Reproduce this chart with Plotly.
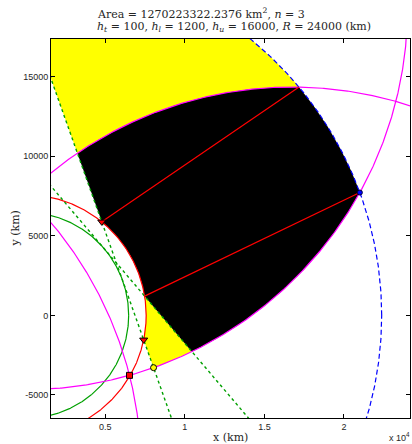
import numpy as np
import plotly.graph_objects as go

# ---- data ----
RE = 6371.0                      # Earth radius (km)
H_T, H_L, H_U = 100.0, 1200.0, 16000.0
R_RANGE = 24000.0
SAT_RADIUS = 19330.0             # orbit radius of the 3 satellites (km)
SAT_ANGLES_DEG = [90.0, -30.0, 210.0]
AREA_TEXT = "1270223322.2376"
N_SAT = 3

X_RANGE = [1590, 24150]
Y_RANGE = [-6445, 17350]
X_TICKS = [5000, 10000, 15000, 20000]
X_TICK_TEXT = ["0.5", "1", "1.5", "2"]
Y_TICKS = [-5000, 0, 5000, 10000, 15000]
Y_TICK_TEXT = ["-5000", "0", "5000", "10000", "15000"]

# ---- geometry helpers ----
def unit(v):
    return v / np.linalg.norm(v)

def line_circle(p0, d, c, r):
    f = p0 - c
    b = np.dot(f, d)
    cc = np.dot(f, f) - r * r
    s = np.sqrt(b * b - cc)
    return sorted([-b - s, -b + s])

def circ_circ(c1, r1, c2, r2):
    d = np.linalg.norm(c2 - c1)
    a = (r1 * r1 - r2 * r2 + d * d) / (2 * d)
    h = np.sqrt(max(r1 * r1 - a * a, 0.0))
    ex = (c2 - c1) / d
    ey = np.array([-ex[1], ex[0]])
    m = c1 + a * ex
    return m + h * ey, m - h * ey

def arc(c, r, pa, pb, n=120):
    a0 = np.arctan2(pa[1] - c[1], pa[0] - c[0])
    a1 = np.arctan2(pb[1] - c[1], pb[0] - c[0])
    da = (a1 - a0 + np.pi) % (2 * np.pi) - np.pi
    t = np.linspace(a0, a0 + da, n)
    return list(c[0] + r * np.cos(t)), list(c[1] + r * np.sin(t))

def full_circle(c, r, n=900):
    t = np.linspace(0, 2 * np.pi, n)
    return c[0] + r * np.cos(t), c[1] + r * np.sin(t)

O = np.zeros(2)
rg, rl, ru = RE + H_T, RE + H_L, RE + H_U
sats = [SAT_RADIUS * np.array([np.cos(np.radians(a)), np.sin(np.radians(a))]) for a in SAT_ANGLES_DEG]
S_B, S_A, S_C = sats
alpha = np.degrees(np.arccos(rg / SAT_RADIUS))

T1 = rg * np.array([np.cos(np.radians(SAT_ANGLES_DEG[0] - alpha)), np.sin(np.radians(SAT_ANGLES_DEG[0] - alpha))])
d1 = unit(T1 - S_B)
T2 = rg * np.array([np.cos(np.radians(SAT_ANGLES_DEG[1] + alpha)), np.sin(np.radians(SAT_ANGLES_DEG[1] + alpha))])
d2 = unit(T2 - S_A)

tr = line_circle(S_B, d1, O, rl)
P1 = S_B + tr[0] * d1
Q1 = S_B + tr[1] * d1
P2 = S_B + line_circle(S_B, d1, S_A, R_RANGE)[0] * d1
Q2 = S_B + R_RANGE * d1
P3 = max(circ_circ(O, ru, S_A, R_RANGE), key=lambda p: p[1])
P4 = max(circ_circ(O, ru, S_B, R_RANGE), key=lambda p: p[0])
P5 = S_A + line_circle(S_A, d2, S_B, R_RANGE)[0] * d2
P6 = S_A + line_circle(S_A, d2, O, rl)[0] * d2
SQ = min(circ_circ(S_B, R_RANGE, S_C, R_RANGE), key=lambda p: np.linalg.norm(p))
TOPB = ru * unit(S_B)

def poly(*parts):
    xs, ys = [], []
    for p in parts:
        if isinstance(p, tuple):
            xs += p[0]; ys += p[1]
        else:
            xs.append(p[0]); ys.append(p[1])
    xs.append(xs[0]); ys.append(ys[0])
    return xs, ys

black_x, black_y = poly(P1, P2, arc(S_A, R_RANGE, P2, P3), arc(O, ru, P3, P4),
                        arc(S_B, R_RANGE, P4, P5), P6, arc(O, rl, P6, P1))
yu_x, yu_y = poly(P2, S_B, TOPB, arc(O, ru, TOPB, P3), arc(S_A, R_RANGE, P3, P2))
yl_x, yl_y = poly(arc(O, rl, P6, Q1), Q2, arc(S_B, R_RANGE, Q2, P5))

GREEN = "#00A000"
fig = go.Figure()

def add(x, y, **kw):
    fig.add_trace(go.Scatter(x=x, y=y, showlegend=False, hoverinfo="skip", **kw))

add(yu_x, yu_y, mode="lines", fill="toself", fillcolor="#FFFF00", line=dict(width=0))
add(yl_x, yl_y, mode="lines", fill="toself", fillcolor="#FFFF00", line=dict(width=0))
add(black_x, black_y, mode="lines", fill="toself", fillcolor="#000000", line=dict(width=0))

gx, gy = full_circle(O, rg)
add(gx, gy, mode="lines", line=dict(color=GREEN, width=1.2))
rx, ry = full_circle(O, rl)
add(rx, ry, mode="lines", line=dict(color="#FF0000", width=1.2))
for s in sats:
    mx, my = full_circle(s, R_RANGE, 1800)
    add(mx, my, mode="lines", line=dict(color="#FF00FF", width=1.2))
bx, by = full_circle(O, ru, 1800)
add(bx, by, mode="lines", line=dict(color="#0000FF", width=1.2, dash="5px,3px"))

L = 45000.0
add([S_B[0], S_B[0] + L * d1[0]], [S_B[1], S_B[1] + L * d1[1]], mode="lines",
    line=dict(color=GREEN, width=1.4, dash="3px,3px"))
add([S_A[0], S_A[0] + L * d2[0]], [S_A[1], S_A[1] + L * d2[1]], mode="lines",
    line=dict(color=GREEN, width=1.4, dash="3px,3px"))

add([P1[0], P3[0]], [P1[1], P3[1]], mode="lines", line=dict(color="#FF0000", width=1.2))
add([P6[0], P4[0]], [P6[1], P4[1]], mode="lines", line=dict(color="#FF0000", width=1.2))

add([P1[0], Q1[0]], [P1[1], Q1[1]], mode="markers",
    marker=dict(symbol="triangle-down", size=7, color="#FF0000", line=dict(color="#000000", width=1)))
add([SQ[0]], [SQ[1]], mode="markers",
    marker=dict(symbol="square", size=6, color="#FF0000", line=dict(color="#000000", width=1)))
add([Q2[0]], [Q2[1]], mode="markers",
    marker=dict(symbol="circle", size=6, color="#FFFF00", line=dict(color="#000000", width=1)))
add([P4[0]], [P4[1]], mode="markers",
    marker=dict(symbol="circle", size=5, color="#0000FF", line=dict(color="#000033", width=1)))

SERIF = "DejaVu Serif"
SANS = "Liberation Sans"
axis_common = dict(showgrid=False, zeroline=False, showline=True, linecolor="#000000", linewidth=1,
                   mirror="ticks", ticks="inside", ticklen=4, tickcolor="#000000",
                   tickfont=dict(family=SANS, size=9, color="#262626"))

PL, PR, PT, PB = 51, 2, 39, 26
fig.update_layout(
    width=412, height=444,
    margin=dict(l=PL, r=PR, t=PT, b=PB, pad=0),
    plot_bgcolor="#FFFFFF", paper_bgcolor="#FFFFFF",
    xaxis=dict(range=X_RANGE, tickvals=X_TICKS, ticktext=X_TICK_TEXT, **axis_common),
    yaxis=dict(range=Y_RANGE, tickvals=Y_TICKS, ticktext=Y_TICK_TEXT, **axis_common),
)

pw = 412 - PL - PR
ph = 444 - PT - PB
def px2paper_x(px):
    return (px - PL) / pw
def px2paper_y(py):
    return (444 - PB - py) / ph

ann = [
    dict(text="Area = " + AREA_TEXT + " km<sup>2</sup>, <i>n</i> = " + str(N_SAT),
         x=px2paper_x(95), y=px2paper_y(13.5), xanchor="left", yanchor="middle",
         font=dict(family=SERIF, size=11, color="#262626")),
    dict(text="<i>h</i><sub><i>t</i></sub> = %d, <i>h</i><sub><i>l</i></sub> = %d, <i>h</i><sub><i>u</i></sub> = %d, <i>R</i> = %d (km)"
         % (H_T, H_L, H_U, R_RANGE),
         x=px2paper_x(95), y=px2paper_y(27), xanchor="left", yanchor="middle",
         font=dict(family=SERIF, size=11, color="#262626")),
    dict(text="x (km)", x=0.5, y=px2paper_y(437.5), xanchor="center", yanchor="middle",
         font=dict(family=SERIF, size=11, color="#262626")),
    dict(text="y (km)", x=px2paper_x(15), y=0.5, textangle=-90, xanchor="center", yanchor="middle",
         font=dict(family=SERIF, size=11, color="#262626")),
    dict(text="x 10<sup>4</sup>", x=px2paper_x(412), y=px2paper_y(437), xanchor="right", yanchor="middle",
         font=dict(family=SANS, size=9, color="#262626")),
]
for a in ann:
    a.update(xref="paper", yref="paper", showarrow=False)
fig.update_layout(annotations=ann)

fig.write_html("out.html", config={"displayModeBar": False})
